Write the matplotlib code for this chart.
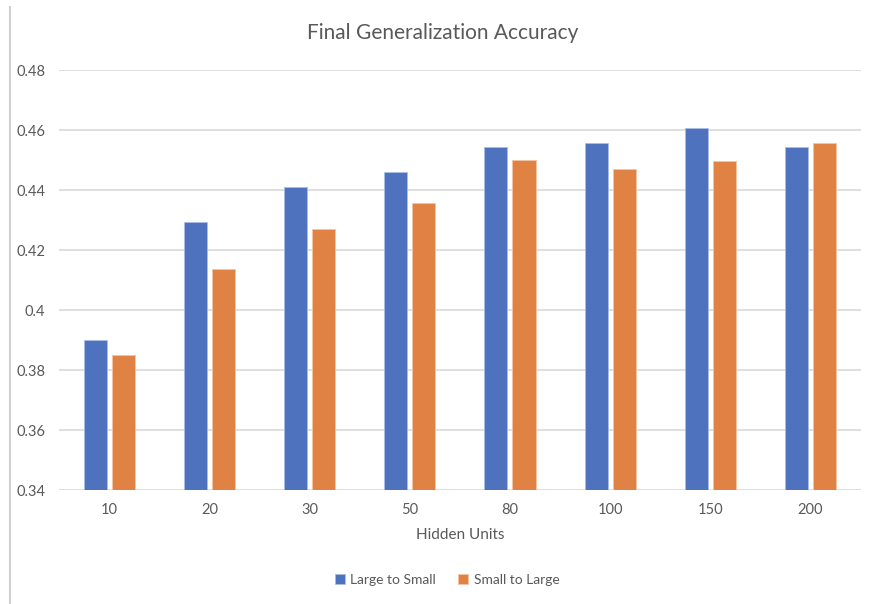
import matplotlib
matplotlib.use("Agg")
import matplotlib.pyplot as plt
from matplotlib.lines import Line2D
import numpy as np

plt.rcParams['font.family'] = ['Lato', 'DejaVu Sans']

# hidden unit counts and final accuracies for both training orders
hidden_units = ['10', '20', '30', '50', '80', '100', '150', '200']
large_to_small = [0.390, 0.4292, 0.4411, 0.4459, 0.4542, 0.4557, 0.4608, 0.4543]
small_to_large = [0.3851, 0.4138, 0.4270, 0.4357, 0.4499, 0.4471, 0.4498, 0.4557]
yticks = [0.34, 0.36, 0.38, 0.40, 0.42, 0.44, 0.46, 0.48]

blue = '#4e72be'
orange = '#e08244'
txt = '#595959'
grid = '#d9d9d9'

fig = plt.figure(figsize=(8.72, 6.04), dpi=100)
ax = fig.add_axes([0.0677, 0.1887, 0.9193, 0.6954])

x = np.arange(len(hidden_units))
w = 0.23
ax.bar(x - 0.14, large_to_small, w, color=blue, edgecolor='#a9bde6', linewidth=0.6,
       label='Large to Small', zorder=3)
ax.bar(x + 0.14, small_to_large, w, color=orange, edgecolor='#f3c3a2', linewidth=0.6,
       label='Small to Large', zorder=3)

ax.set_ylim(0.34, 0.48)
ax.set_xlim(-0.5, len(hidden_units) - 0.5)
ax.set_yticks(yticks)
ax.set_yticklabels(['%g' % v for v in yticks])
ax.set_xticks(x)
ax.set_xticklabels(hidden_units)
ax.tick_params(axis='both', length=0, colors=txt, labelsize=10.5)
ax.tick_params(axis='y', pad=10)
ax.tick_params(axis='x', pad=9)
ax.grid(axis='y', color=grid, linewidth=1.2, zorder=0)
for s in ax.spines.values():
    s.set_visible(False)

ax.set_xlabel('Hidden Units', color=txt, fontsize=11, labelpad=8)
fig.text(0.508, 0.945, 'Final Generalization Accuracy', ha='center', va='center',
         color=txt, fontsize=15)

leg = fig.legend(loc='center', bbox_to_anchor=(0.513, 0.04), ncol=2, frameon=False,
                 fontsize=10, handlelength=0.7, handleheight=0.7, columnspacing=1.6,
                 handletextpad=0.4)
for t in leg.get_texts():
    t.set_color(txt)

# chart frame edge along the left side
fig.add_artist(Line2D([0.0115, 0.0115], [0.0, 0.988], transform=fig.transFigure,
                      color='#d0d0d0', linewidth=1.5))

fig.savefig('out.png', dpi=100)
